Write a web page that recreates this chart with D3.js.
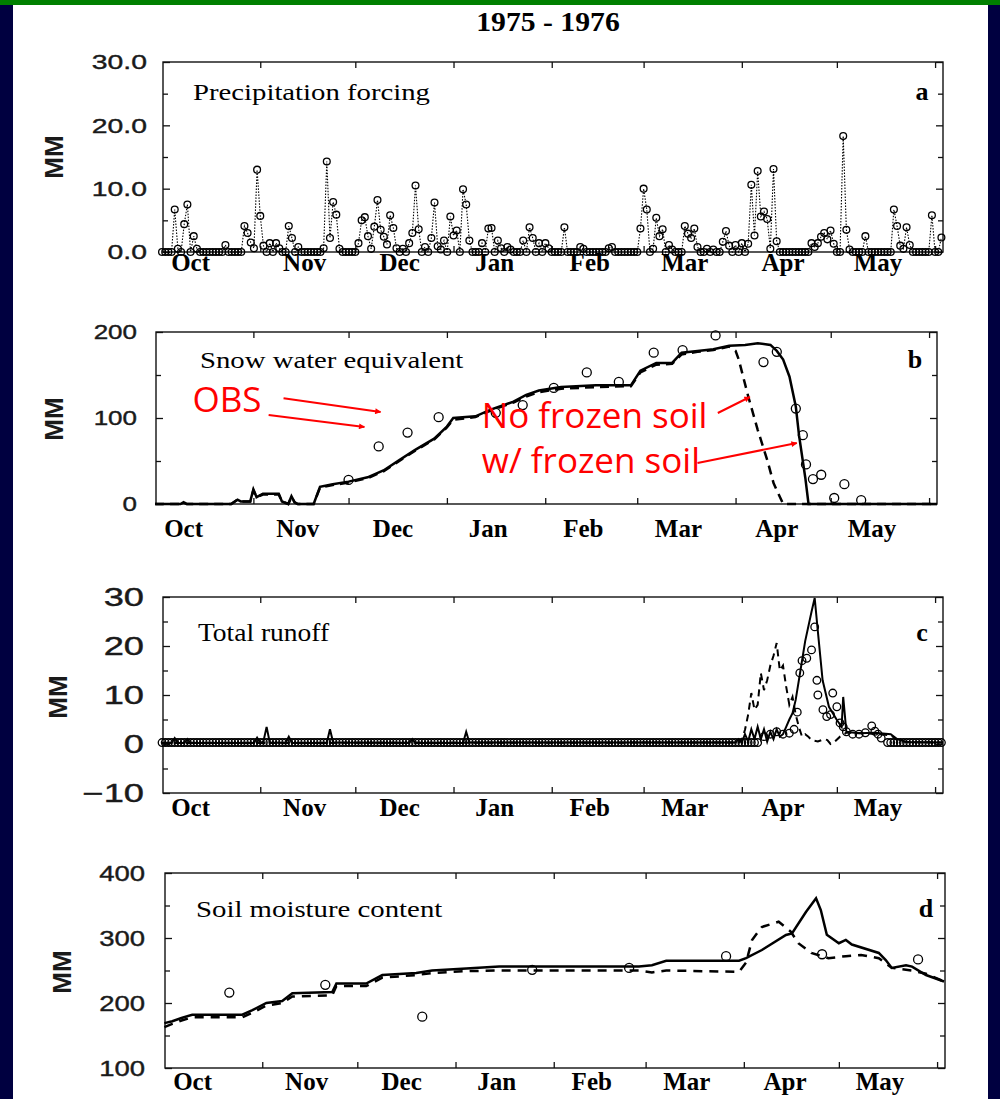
<!DOCTYPE html>
<html>
<head>
<meta charset="utf-8">
<script src="https://cdn.jsdelivr.net/npm/d3@7"></script>
<style>
  body { margin: 0; background: #000040; }
  svg { display: block; }
</style>
</head>
<body>
<div id="chart"></div>
<script>
var width = 1000,
    height = 1099;

// days are counted from 1 Oct 1975
var t0 = Date.UTC(1975, 9, 1),
    dayMs = 864e5;
function day(d) { return new Date(t0 + d * dayMs); }

var monthNames = ["Oct", "Nov", "Dec", "Jan", "Feb", "Mar", "Apr", "May"];
var monthLabelDays = [9, 45, 75, 105, 135, 165, 196, 226];

// (a) precipitation forcing, mm/day, days with rain
var precipEvents = [[4,6.7],[5,0.5],[7,4.4],[8,7.5],[10,2.5],[11,0.5],[20,1.1],[26,4.1],[27,3.0],[28,1.5],[29,0.6],
  [30,13.0],[31,5.7],[32,1.0],[34,1.4],[36,1.4],[37,0.6],[40,4.1],[41,2.2],[43,0.8],[51,0.6],[52,14.3],[53,2.2],
  [54,7.9],[55,5.9],[56,0.5],[62,1.4],[63,5.0],[64,5.5],[65,2.5],[66,0.5],[67,4.0],[68,8.2],[69,3.5],[70,2.4],
  [71,1.2],[72,5.8],[73,3.8],[74,0.6],[76,0.5],[78,1.4],[79,3.0],[80,10.5],[81,3.6],[83,0.8],[85,2.2],[86,7.8],
  [87,0.9],[88,0.4],[89,1.8],[91,5.6],[92,2.6],[93,3.4],[95,9.9],[96,7.5],[97,1.8],[101,1.4],[103,3.7],[104,3.8],
  [106,1.8],[107,0.6],[109,0.8],[110,0.4],[114,1.8],[116,3.9],[117,2.2],[119,1.4],[121,1.4],[122,0.6],[127,3.9],
  [132,0.8],[133,0.5],[141,0.6],[142,0.8],[151,3.7],[152,10.0],[153,6.7],[155,0.5],[156,5.4],[157,2.5],[158,3.6],
  [160,1.1],[161,0.4],[165,4.1],[166,2.9],[167,2.2],[168,3.7],[169,0.8],[172,0.5],[174,0.4],[177,1.6],[178,3.3],
  [179,1.0],[181,1.1],[183,1.4],[185,1.3],[186,10.6],[187,2.6],[188,12.8],[189,5.6],[190,6.4],[191,5.2],[192,0.5],
  [193,13.1],[194,1.7],[205,1.4],[206,0.8],[207,1.4],[208,2.4],[209,3.0],[210,2.0],[211,3.4],[212,1.3],[215,18.3],
  [216,3.5],[217,0.4],[222,2.5],[231,6.7],[232,4.1],[233,1.0],[234,0.5],[235,3.9],[236,1.1],[243,5.8],[246,2.3]];

// (b) snow water equivalent, mm
var sweFrozen = [[0,0],[8,0],[9,2],[10,0],[24,0],[26,5],[27,3],[30,3],[31,17],[32,8],[34,12],[39,12],[40,3],
  [42,0],[43,9],[44,2],[45,0],[50,0],[52,20],[56,23],[61,26],[67,31],[72,39],[77,51],[82,63],[88,76],[92,90],
  [94,100],[101,102],[106,110],[113,119],[117,127],[121,132],[128,136],[139,138],[150,138],[153,155],[158,164],
  [163,164],[166,176],[171,178],[176,180],[181,184],[186,185],[190,187],[194,185],[196,178],[198,168],[200,148],
  [202,113],[203,80],[205,30],[206,0],[246.5,0]];
var sweNoFrozen = [[0,0],[8,0],[9,2],[10,0],[24,0],[26,5],[27,3],[30,3],[31,16],[32,8],[34,11],[39,11],[40,3],
  [42,0],[43,8],[44,2],[45,0],[50,0],[52,19],[56,22],[61,25],[67,30],[72,38],[77,50],[82,62],[88,75],[92,89],
  [94,98],[101,101],[106,109],[113,118],[117,125],[121,130],[128,134],[139,136],[150,137],[153,153],[158,162],
  [163,163],[166,174],[171,177],[176,179],[181,183],[183,178],[184,168],[187,125],[190,86],[193,51],[195,24],
  [198,0],[246.5,0]];
var sweObs = [[61,28],[70.5,67],[79.6,83],[89.4,101],[107.4,106],[115.9,115],[125.7,135],[136.1,153],[146.2,142],
  [157.2,176],[166.3,179],[176.7,196],[191.8,165],[196,177],[202,111],[204.2,80],[205.2,46],[207.4,29],[210,34],
  [214.1,7],[217.3,23],[222.6,4.5]];

// (c) total runoff, mm/day
var runoffFrozen = [[0,0.2],[3,0.2],[4,1.2],[5,0.2],[7,0.2],[8,1],[9,0.2],[29,0.2],[30,1.3],[31,0.2],[32,0.5],
  [33,3.5],[34,0.3],[39,0.2],[40,1.5],[41,0.2],[52,0.2],[53,3],[54,0.3],[78,0.2],[79,1],[80,0.2],[95,0.2],[96,2.5],
  [97,0.3],[181,0.3],[182,1],[183,0.3],[184,2],[185,0.5],[186,3],[187,1],[188,3.5],[189,1],[190,3],[191,0.5],
  [192,2.5],[193,1],[194,3],[195,1.5],[196,2],[197,3.5],[198,5],[199,6.3],[200,9],[201,13],[203,21],[205,27],
  [206,29.8],[207,23],[208.5,13],[210.5,7.6],[213,4.9],[214.5,3.5],[215,9.6],[216,2.5],[220,2.2],[225,2.3],
  [230,2],[232,1],[235,0.4],[246.5,0.3]];
var runoffNoFrozen = [[0,0.2],[182,0.3],[183,0.8],[184,2.9],[185,6],[186,10.4],[187,7],[188,8],[189,14.5],
  [190,11],[191,13],[192,16],[193,18],[194,20.6],[195,15],[196,16],[197,11.7],[198,8],[199,9.6],[200,6],
  [201,3.5],[202,1.5],[203,2],[204,1.5],[205,0.8],[207,0.5],[209,1],[210,0.8],[211,0],[212,0.3],[214,1.5],
  [216,2.3],[222,2.2],[230,1.8],[232,0.8],[235,0.4],[246.5,0.3]];
var runoffObsEvents = [[190,1.5],[192,2],[194,2.5],[196,2],[198,2.2],[199.5,3],[200.5,6.5],[201.3,14.5],[202,17],
  [203.5,17.5],[205,19.2],[206,23.9],[206.7,13],[207,10],[208.6,7],[209.8,5.6],[211,6],[211.7,10.4],[213,7.6],
  [214,4.3],[215,3.5],[216,2.5],[218,2],[220,2],[222,2.3],[224,3.7],[225,2.6],[226,2],[227,1.2]];
var runoffObsBase = 0.3;

// (d) soil moisture content, mm
var soilFrozen = [[0.1,169],[2.6,172],[5.5,177],[8.9,182],[24.7,182],[27.9,189],[32.3,200],[37.3,203],[40.5,215],
  [53.1,217],[54.4,230],[63.8,230],[68.9,243],[79.6,246],[84.6,250],[95.4,253],[105.8,256],[149.9,256],[154,258],
  [158.5,265],[181.5,265],[183.7,269],[188.7,281.5],[196.3,304.6],[198.2,307],[202.6,340],[205.8,361],[207.3,343],
  [209.2,305],[213,292],[215.2,297],[217.1,290],[225.6,277],[227.8,266],[229.7,254],[234.2,258],[236.1,256],
  [240.5,243],[246.2,233]];
var soilNoFrozen = [[0.1,163],[2.6,168],[5.5,173],[8.9,178],[24.7,178],[27.9,185],[32.3,196],[37.3,200],[40.5,210],
  [53.1,212],[54.4,226],[63.8,226],[68.9,239],[79.6,243],[84.6,246],[95.4,249],[105.8,250],[149.9,250],[154,247],
  [158.5,250],[181.5,248],[183.7,262],[185.6,297],[188.7,317],[194,325],[197.8,310],[200.2,292],[204.3,277],
  [209.7,269],[215.2,272],[220,274],[225.6,269],[229.7,254],[236.1,250],[240.5,245],[246.2,233]];
var soilObs = [[20.6,216],[50.9,228],[81.5,179],[116.2,251],[146.8,254],[177.4,272],[207.7,275],[238,267]];

var svg = d3.select("#chart").append("svg")
    .attr("width", width)
    .attr("height", height);

svg.append("rect").attr("width", width).attr("height", height).attr("fill", "#000040");
svg.append("rect").attr("width", width).attr("height", 5).attr("fill", "#008000");
svg.append("rect").attr("x", 13).attr("y", 5).attr("width", 975).attr("height", height - 5).attr("fill", "#fff");

svg.append("defs").append("marker")
    .attr("id", "arrow")
    .attr("viewBox", "0 0 10 10")
    .attr("refX", 9).attr("refY", 5)
    .attr("markerWidth", 7).attr("markerHeight", 6)
    .attr("markerUnits", "userSpaceOnUse")
    .attr("orient", "auto")
    .append("path").attr("d", "M0,0L10,5L0,10z").attr("fill", "#f00");

svg.append("text")
    .attr("transform", "translate(548,31) scale(1.1,1)")
    .attr("text-anchor", "middle")
    .style("font", "bold 27px 'Liberation Serif'")
    .text("1975 - 1976");

function panel(o) {
  var x = d3.scaleUtc().domain([day(0.3), day(246.5)]).range([o.left, o.right]);
  var y = d3.scaleLinear().domain(o.domain).range([o.bottom, o.top]);
  var g = svg.append("g");
  var months = d3.utcMonth.range(day(1), day(245));

  g.append("g").attr("transform", "translate(0," + o.top + ")")
      .call(d3.axisTop(x).tickValues(months).tickSize(-6).tickFormat(""));
  g.append("g").attr("transform", "translate(0," + o.bottom + ")")
      .call(d3.axisBottom(x).tickValues(months).tickSize(-6).tickFormat(""));
  g.append("g").attr("transform", "translate(" + o.left + ",0)")
      .call(d3.axisLeft(y).tickValues(o.minor).tickSize(-5).tickFormat(""));
  g.append("g").attr("transform", "translate(" + o.right + ",0)")
      .call(d3.axisRight(y).tickValues(o.minor).tickSize(-5).tickFormat(""));
  g.append("g").attr("transform", "translate(" + o.right + ",0)")
      .call(d3.axisRight(y).tickValues(o.major).tickSize(-7).tickFormat(""));
  var left = g.append("g").attr("transform", "translate(" + o.left + ",0)")
      .call(d3.axisLeft(y).tickValues(o.major).tickSize(-7).tickPadding(0).tickFormat(o.fmt));
  left.selectAll("text")
      .attr("x", (o.labelRight - o.left) / o.labelScale)
      .attr("transform", "scale(" + o.labelScale + ",1)")
      .attr("fill", "#1a1a1a")
      .attr("stroke", "#1a1a1a")
      .attr("stroke-width", 0.4)
      .style("font", o.labelSize + "px 'Liberation Sans'");
  g.selectAll(".domain").remove();
  g.selectAll(".tick line").attr("stroke", "#111").attr("stroke-width", 1.3);

  g.append("rect")
      .attr("x", o.left).attr("y", o.top)
      .attr("width", o.right - o.left).attr("height", o.bottom - o.top)
      .attr("fill", "none").attr("stroke", "#111").attr("stroke-width", 1.4);

  g.selectAll(".month")
    .data(monthLabelDays)
    .enter().append("text")
      .attr("class", "month")
      .attr("x", function (d) { return x(day(d)); })
      .attr("y", o.bottom + o.monthDy)
      .attr("text-anchor", "middle")
      .style("font", "bold " + o.monthSize + "px 'Liberation Serif'")
      .text(function (d, i) { return monthNames[i]; });

  g.append("text")
      .attr("transform", "translate(" + o.mmX + "," + o.mmY + ") rotate(-90)")
      .attr("text-anchor", "middle")
      .attr("dy", "0.36em")
      .style("font", "bold 26px 'Liberation Sans'")
      .attr("fill", "#1a1a1a")
      .text("MM");

  g.append("text")
      .attr("transform", "translate(" + o.titleX + "," + o.titleY + ") scale(" + o.titleScale + ",1)")
      .style("font", o.titleSize + "px 'Liberation Serif'")
      .text(o.title);

  g.append("text")
      .attr("x", o.letterX).attr("y", o.titleY)
      .attr("text-anchor", "middle")
      .style("font", "bold 26px 'Liberation Serif'")
      .text(o.letter);

  return { g: g, x: x, y: y };
}

function drawLine(p, data, dash, w) {
  p.g.append("path")
      .datum(data)
      .attr("fill", "none")
      .attr("stroke", "#000")
      .attr("stroke-width", w)
      .attr("stroke-dasharray", dash)
      .attr("d", d3.line()
          .x(function (d) { return p.x(day(d[0])); })
          .y(function (d) { return p.y(d[1]); }));
}

function drawObs(p, data, r) {
  p.g.append("g").selectAll("circle")
    .data(data)
    .enter().append("circle")
      .attr("cx", function (d) { return p.x(day(d[0])); })
      .attr("cy", function (d) { return p.y(d[1]); })
      .attr("r", r)
      .attr("fill", "none")
      .attr("stroke", "#000")
      .attr("stroke-width", 1.3);
}

// a
var pa = panel({ left: 163, right: 943, top: 62, bottom: 252, domain: [0, 30],
  major: [0, 10, 20, 30], minor: [5, 15, 25], fmt: d3.format(".1f"),
  labelRight: 147, labelSize: 21, labelScale: 1.35, monthDy: 19, monthSize: 25,
  mmX: 54, mmY: 157, title: "Precipitation forcing", titleX: 193, titleY: 100,
  titleSize: 23, titleScale: 1.25, letter: "a", letterX: 922 });
var precipMap = new Map(precipEvents);
var precipDaily = d3.range(0, 247).map(function (d) { return [d, precipMap.get(d) || 0]; });
drawLine(pa, precipDaily, "1.5,1.5", 1.1);
drawObs(pa, precipDaily, 3.4);

// b
var pb = panel({ left: 156, right: 937, top: 332, bottom: 504, domain: [0, 200],
  major: [0, 100, 200], minor: [50, 150], fmt: d3.format("d"),
  labelRight: 137, labelSize: 20, labelScale: 1.3, monthDy: 33, monthSize: 25,
  mmX: 54, mmY: 419, title: "Snow water equivalent", titleX: 200, titleY: 368,
  titleSize: 23, titleScale: 1.25, letter: "b", letterX: 915 });
drawLine(pb, sweNoFrozen, "9,6", 2.5);
drawLine(pb, sweFrozen, null, 2.5);
drawObs(pb, sweObs, 4.5);

// c
var pc = panel({ left: 163, right: 943, top: 597, bottom: 793, domain: [-10, 30],
  major: [-10, 0, 10, 20, 30], minor: [-5, 5, 15, 25], fmt: d3.format("d"),
  labelRight: 144, labelSize: 25, labelScale: 1.45, monthDy: 23, monthSize: 25,
  mmX: 58, mmY: 697, title: "Total runoff", titleX: 198, titleY: 641,
  titleSize: 25, titleScale: 1.1, letter: "c", letterX: 922 });
drawLine(pc, runoffNoFrozen, "7,5", 2);
drawLine(pc, runoffFrozen, null, 2);
var runoffObsBaseDays = d3.range(0, 247).filter(function (d) { return d < 189 || d > 228; })
    .map(function (d) { return [d, runoffObsBase]; });
drawObs(pc, runoffObsBaseDays.concat(runoffObsEvents), 3.8);

// d
var pd = panel({ left: 165, right: 945, top: 873, bottom: 1068, domain: [100, 400],
  major: [100, 200, 300, 400], minor: [150, 250, 350], fmt: d3.format("d"),
  labelRight: 145, labelSize: 22, labelScale: 1.25, monthDy: 22, monthSize: 25,
  mmX: 62, mmY: 972, title: "Soil moisture content", titleX: 196, titleY: 917,
  titleSize: 24, titleScale: 1.2, letter: "d", letterX: 926 });
drawLine(pd, soilNoFrozen, "9,7", 2.5);
drawLine(pd, soilFrozen, null, 2.5);
drawObs(pd, soilObs, 4.5);

// red annotations on panel b
var notes = [
  { text: "OBS", at: [11.8, 107] },
  { text: "No frozen soil", at: [103, 88] },
  { text: "w/ frozen soil", at: [103, 36] }
];
var arrows = [
  { from: [40.5, 123], to: [71.1, 107] },
  { from: [35.8, 103.5], to: [66, 89.5] },
  { from: [177.4, 105.8], to: [187.5, 124.4] },
  { from: [171, 47.7], to: [202.3, 70.9] }
];
pb.g.selectAll(".note")
  .data(notes)
  .enter().append("text")
    .attr("class", "note")
    .attr("x", function (d) { return pb.x(day(d.at[0])); })
    .attr("y", function (d) { return pb.y(d.at[1]); })
    .attr("fill", "#f00")
    .style("font", "35px 'Open Sans'")
    .text(function (d) { return d.text; });
pb.g.selectAll(".arrow")
  .data(arrows)
  .enter().append("line")
    .attr("class", "arrow")
    .attr("x1", function (d) { return pb.x(day(d.from[0])); })
    .attr("y1", function (d) { return pb.y(d.from[1]); })
    .attr("x2", function (d) { return pb.x(day(d.to[0])); })
    .attr("y2", function (d) { return pb.y(d.to[1]); })
    .attr("stroke", "#f00")
    .attr("stroke-width", 2)
    .attr("marker-end", "url(#arrow)");
</script>
</body>
</html>
